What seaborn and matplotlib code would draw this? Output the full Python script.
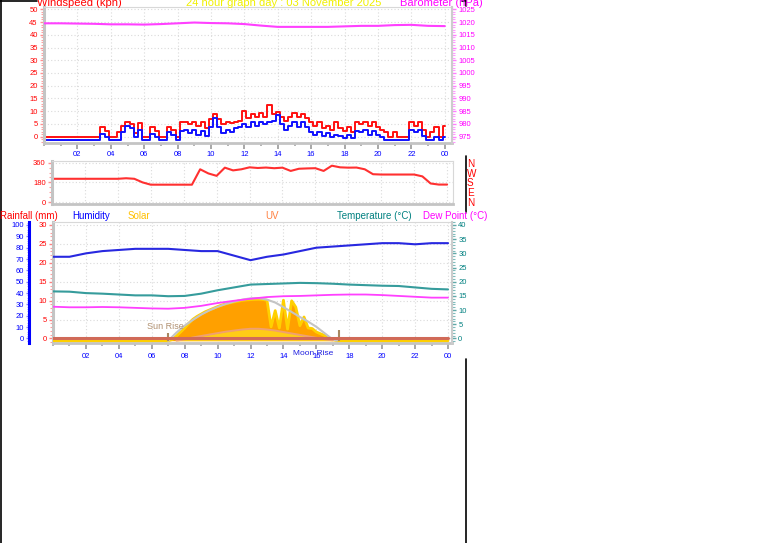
import numpy as np
import matplotlib
matplotlib.use('Agg')
import matplotlib.pyplot as plt
import matplotlib.transforms as mtransforms
from matplotlib.lines import Line2D
from matplotlib.ticker import MultipleLocator, FixedLocator
import seaborn as sns

# ---------------- data ----------------
hours_q = np.arange(97) * 0.25          # 15-minute samples 00:00 .. 24:00
hours_h = np.arange(25)                 # hourly samples
hours_d = np.arange(49) * 0.5           # 30-minute samples

gust_kph = [0] * 14 + [
    3.7, 2.3, 0, 0, 1.8, 4.3, 5.6, 4.8, 1.3, 5.2,
    0, 0, 3.7, 2.3, 0, 0, 3.7, 2.8, 0, 5.6,
    5.6, 5.0, 5.6, 4.3, 5.6, 3.3, 6.8, 9.0, 6.8, 4.8,
    5.6, 5.3, 5.6, 6.3, 10.2, 7.3, 8.8, 7.8, 9.3, 7.8,
    12.4, 8.8, 9.8, 7.8, 6.3, 7.8, 9.3, 7.8, 8.8, 7.3,
    5.8, 4.3, 5.6, 3.3, 4.3, 2.8, 5.6, 3.3, 2.3, 3.8,
    1.8, 5.6, 4.8, 5.6, 4.3, 5.6, 3.8, 2.8, 1.8, 0,
    1.8, 0, 0, 0, 5.6, 4.3, 5.6, 2.8, 0, 1.8,
    3.8, 0, 4.3]
speed_kph = [0] * 14 + [
    2.3, 1.0, 0, 0, 0, 3.0, 5.2, 4.5, 1.0, 4.0,
    0, 0, 2.3, 1.0, 0, 0, 3.0, 2.0, 0, 3.5,
    4.0, 2.5, 4.0, 2.0, 3.5, 1.5, 5.0, 8.5, 5.0, 2.5,
    4.0, 3.0, 4.5, 5.0, 6.0, 5.0, 7.0, 5.5, 7.0, 6.0,
    7.0, 7.5, 9.6, 6.0, 4.0, 5.5, 7.0, 5.0, 7.0, 5.0,
    3.0, 2.0, 3.0, 1.5, 2.5, 1.0, 2.0, 1.5, 0.5, 2.0,
    0.5, 3.5, 3.0, 4.0, 2.0, 3.5, 2.0, 1.0, 0, 0,
    0, 0, 0, 0, 4.0, 3.0, 4.0, 1.5, 0, 0,
    1.0, 0, 1.0]
pressure_hpa = [1019.5, 1019.5, 1019.4, 1019.3, 1019.1, 1019.1, 1019.0, 1019.2,
                1019.5, 1019.8, 1019.6, 1019.5, 1019.2, 1018.6, 1018.1, 1018.1,
                1018.1, 1018.1, 1018.3, 1018.5, 1018.5, 1018.8, 1018.9, 1018.5,
                1018.4]
direction_deg = [213, 213, 213, 213, 213, 213, 213, 213, 213, 218, 213, 180,
                 159, 159, 159, 159, 159, 159, 300, 262, 240, 315, 290, 300,
                 318, 312, 316, 310, 315, 285, 305, 308, 310, 285, 333, 318,
                 315, 316, 300, 255, 252, 252, 252, 252, 252, 235, 170, 160, 160]
humidity_pct = [72, 72, 75, 77, 78, 79, 79, 79, 78, 77, 77, 73, 69, 72, 74, 77,
                80, 81, 82, 83, 84, 84, 83, 84, 84]
temperature_c = [16.6, 16.5, 16.0, 15.8, 15.5, 15.2, 15.2, 14.9, 15.0, 15.8, 17.0,
                 18.0, 19.0, 19.2, 19.4, 19.6, 19.5, 19.3, 19.0, 18.8, 18.6, 18.5,
                 18.0, 17.5, 17.3]
dewpoint_c = [11.2, 11.0, 11.0, 11.1, 11.0, 10.8, 10.6, 10.5, 10.8, 11.5, 12.5,
              13.3, 14.0, 14.6, 14.9, 15.0, 15.2, 15.4, 15.5, 15.5, 15.3, 15.0,
              14.7, 14.4, 14.4]
rainfall_mm = [0] * 25
solar_wm2 = [0] * 29 + [
    10, 40, 75, 110, 150, 185, 210, 230, 250, 265, 280, 295, 308, 318, 327,
    335, 342, 348, 352, 355, 357, 358, 356, 350, 120, 260, 110, 350, 100, 345,
    290, 130, 205, 110, 105, 75, 60, 45, 25, 10] + [0] * 28
solar_max_hours = [7.0, 7.5, 8.0, 8.5, 9.0, 9.5, 10.0, 10.5, 11.0, 11.5, 12.0,
                   12.5, 13.0, 13.5, 14.0, 14.5, 15.0, 15.5, 16.0, 16.5, 17.0, 17.25]
solar_max_wm2 = [0, 70, 130, 180, 225, 262, 292, 318, 338, 355, 366, 368, 355,
                 330, 290, 248, 205, 165, 120, 65, 10, 0]
uv_hours = [7.5, 8.0, 8.5, 9.0, 9.5, 10.0, 10.5, 11.0, 11.5, 12.0, 12.5, 13.0,
            13.5, 14.0, 14.5, 15.0, 15.5, 16.0, 16.5, 17.0]
uv_index = [0, 0.2, 0.45, 0.65, 0.85, 1.05, 1.25, 1.4, 1.55, 1.65, 1.65, 1.55,
            1.4, 1.2, 1.0, 0.8, 0.6, 0.4, 0.2, 0.05]
sunrise_hour = 6.98
sunset_hour = 17.37
moonrise_hour = 15.83
tick_hours = [2, 4, 6, 8, 10, 12, 14, 16, 18, 20, 22, 24]
tick_labels = ['02', '04', '06', '08', '10', '12', '14', '16', '18', '20', '22', '00']
compass_deg = [0, 90, 180, 270, 360]
compass_labels = ['N', 'E', 'S', 'W', 'N']

# ---------------- style ----------------
sns.set_theme(style='white')
plt.rcParams['font.family'] = ['Liberation Sans', 'DejaVu Sans']

W, H = 761, 543
fig = plt.figure(figsize=(W / 100, H / 100), dpi=100)
fig.patch.set_facecolor('white')


def box(l, t, r, b):
    return [l / W, 1 - b / H, (r - l) / W, (b - t) / H]


GRID = dict(color='#DADADA', linestyle=(0, (1, 2)), linewidth=0.8)
XBLUE = '#0000FF'
TICKGRAY = '#A8A8A8'


def hide_all_spines(a):
    for s in a.spines.values():
        s.set_visible(False)


def style_xaxis(a, labels=True, pad=1.5):
    a.xaxis.set_major_locator(FixedLocator(tick_hours))
    a.xaxis.set_minor_locator(MultipleLocator(1))
    a.set_xticklabels(tick_labels if labels else [''] * len(tick_hours))
    a.tick_params(axis='x', which='major', bottom=True, length=4, width=1.4,
                  color=TICKGRAY, labelcolor=XBLUE, labelsize=5.5, pad=pad)
    a.tick_params(axis='x', which='minor', bottom=True, length=2.5, width=1.2,
                  color=TICKGRAY)
    a.grid(True, axis='x', which='major', **GRID)


def frame(a):
    for s in ['top', 'right']:
        a.spines[s].set_color('#D8D8D8')
        a.spines[s].set_linewidth(0.8)
    a.spines['left'].set_color('#C4C4C4')
    a.spines['left'].set_linewidth(2.2)
    a.spines['bottom'].set_color('#C4C4C4')
    a.spines['bottom'].set_linewidth(2.0)


# ---------------- panel 1 : wind + barometer ----------------
ax1 = fig.add_axes(box(44, 7, 452, 143))
sns.lineplot(x=hours_q, y=gust_kph, ax=ax1, color='#FF1010', linewidth=1.4,
             drawstyle='steps-mid', estimator=None, legend=False)
blue_tr = mtransforms.offset_copy(ax1.transData, fig=fig, y=-3, units='dots')
sns.lineplot(x=hours_q, y=speed_kph, ax=ax1, color='#1010FF', linewidth=1.4,
             drawstyle='steps-mid', estimator=None, legend=False, transform=blue_tr)
ax1.set_xlim(0, 24.43)
ax1.set_ylim(-2.47, 50.9)
frame(ax1)
style_xaxis(ax1, labels=True, pad=1.5)
ax1.yaxis.set_major_locator(MultipleLocator(5))
ax1.yaxis.set_minor_locator(MultipleLocator(1))
ax1.tick_params(axis='y', which='major', left=True, length=3, width=1, color='#FF9090',
                labelcolor='#FF0000', labelsize=5.5, pad=1.5)
ax1.tick_params(axis='y', which='minor', left=True, length=2, width=0.8, color='#FFA0A0')
ax1.grid(True, axis='y', which='major', **GRID)
ax1.set_xlabel('')
ax1.set_ylabel('')

ax1b = ax1.twinx()
sns.lineplot(x=hours_h, y=pressure_hpa, ax=ax1b, color='#FF40FF', linewidth=1.5,
             estimator=None, legend=False)
ax1b.set_ylim(972.53, 1025.9)
ax1b.set_xlim(0, 24.43)
hide_all_spines(ax1b)
ax1b.spines['right'].set_visible(True)
ax1b.spines['right'].set_color('#CCCCCC')
ax1b.spines['right'].set_linewidth(1.5)
ax1b.yaxis.set_major_locator(MultipleLocator(5))
ax1b.yaxis.set_minor_locator(MultipleLocator(1))
ax1b.tick_params(axis='y', which='major', right=True, length=3, width=1, color='#FF80FF',
                 labelcolor='#FF00FF', labelsize=5.5, pad=1.5)
ax1b.tick_params(axis='y', which='minor', right=True, length=2, width=0.8, color='#FF9CFF')
ax1b.set_ylabel('')

# ---------------- panel 2 : wind direction ----------------
ax2 = fig.add_axes(box(52, 161, 453, 204))
sns.lineplot(x=hours_d, y=direction_deg, ax=ax2, color='#FF3030', linewidth=1.5,
             estimator=None, legend=False)
ax2.set_xlim(0, 24.36)
ax2.set_ylim(-18, 376)
frame(ax2)
ax2.xaxis.set_major_locator(FixedLocator(tick_hours))
ax2.set_xticklabels([''] * len(tick_hours))
ax2.tick_params(axis='x', length=0)
ax2.grid(True, axis='x', **GRID)
ax2.yaxis.set_major_locator(FixedLocator([0, 180, 360]))
ax2.yaxis.set_minor_locator(MultipleLocator(45))
ax2.tick_params(axis='y', which='major', left=True, length=3, width=1, color='#FF9090',
                labelcolor='#FF0000', labelsize=5.5, pad=1.5)
ax2.tick_params(axis='y', which='minor', left=True, length=2, width=0.8, color='#FFA0A0')
ax2.grid(True, axis='y', which='major', **GRID)
ax2.set_xlabel('')
ax2.set_ylabel('')

ax2b = ax2.twinx()
ax2b.set_ylim(-18, 376)
hide_all_spines(ax2b)
ax2b.yaxis.set_major_locator(FixedLocator(compass_deg))
ax2b.set_yticklabels(compass_labels)
ax2b.tick_params(axis='y', right=True, length=0, pad=10, labelcolor='#FF0000',
                 labelsize=7.2)

# ---------------- panel 3 : rain / humidity / solar / uv / temperature ----------------
P3 = box(53, 222, 452, 343)
X3 = (0, 24.24)
ax3 = fig.add_axes(P3)
ax3.set_xlim(*X3)
ax3.set_ylim(-1.19, 30.79)
frame(ax3)
style_xaxis(ax3, labels=True, pad=3)
ax3.yaxis.set_major_locator(MultipleLocator(5))
ax3.yaxis.set_minor_locator(MultipleLocator(1))
ax3.tick_params(axis='y', which='major', left=True, length=3, width=1, color='#FF8080',
                labelcolor='#FF0000', labelsize=5.5, pad=1.5)
ax3.tick_params(axis='y', which='minor', left=True, length=2, width=0.8, color='#FF9C9C')
ax3.grid(True, axis='y', which='major', **GRID)

# solar
axS = ax3.twinx()
axS.fill_between(hours_q, 0, solar_wm2, color='#FFA000', linewidth=0)
sns.lineplot(x=hours_q, y=solar_wm2, ax=axS, color='#FFD000', linewidth=2.0,
             estimator=None, legend=False)
sns.lineplot(x=solar_max_hours, y=solar_max_wm2, ax=axS, color='#C4C4C4',
             linewidth=1.5, estimator=None, legend=False)
axS.set_ylim(-19.9, 1025.9)
axS.set_xlim(*X3)
axS.set_yticks([])
axS.set_ylabel('')
hide_all_spines(axS)

# UV
axU = ax3.twinx()
axU.fill_between(uv_hours, 0, uv_index, color='#FFD21A', linewidth=0, alpha=0.9)
sns.lineplot(x=uv_hours, y=uv_index, ax=axU, color='#F0A070', linewidth=1.4,
             estimator=None, legend=False)
axU.set_ylim(-0.318, 16.41)
axU.set_xlim(*X3)
axU.set_yticks([])
axU.set_ylabel('')
hide_all_spines(axU)

# humidity
axH = ax3.twinx()
sns.lineplot(x=hours_h, y=humidity_pct, ax=axH, color='#2828E0', linewidth=1.5,
             estimator=None, legend=False)
axH.set_ylim(-3.965, 102.64)
axH.set_xlim(*X3)
hide_all_spines(axH)
axH.spines['left'].set_visible(True)
axH.spines['left'].set_position(('outward', 17))
axH.spines['left'].set_color('#0000FF')
axH.spines['left'].set_linewidth(2.2)
axH.yaxis.tick_left()
axH.yaxis.set_major_locator(MultipleLocator(10))
axH.yaxis.set_minor_locator(MultipleLocator(2))
axH.tick_params(axis='y', which='major', left=True, right=False, length=2.5, width=1,
                color='#8080FF', labelcolor='#0000FF', labelsize=5.5, pad=1.5)
axH.tick_params(axis='y', which='minor', left=True, right=False, length=1.8,
                width=0.8, color='#A0A0FF')
axH.set_ylabel('')

# temperature + dew point
axT = ax3.twinx()
sns.lineplot(x=hours_h, y=dewpoint_c, ax=axT, color='#FF40FF', linewidth=1.3,
             estimator=None, legend=False)
sns.lineplot(x=hours_h, y=temperature_c, ax=axT, color='#369C9C', linewidth=1.5,
             estimator=None, legend=False)
axT.set_ylim(-1.586, 41.057)
axT.set_xlim(*X3)
hide_all_spines(axT)
axT.spines['right'].set_visible(True)
axT.spines['right'].set_color('#CCCCCC')
axT.spines['right'].set_linewidth(1.5)
axT.yaxis.set_major_locator(MultipleLocator(5))
axT.yaxis.set_minor_locator(MultipleLocator(1))
axT.tick_params(axis='y', which='major', right=True, length=3, width=1, color='#60A8A8',
                labelcolor='#008080', labelsize=5.5, pad=1.5)
axT.tick_params(axis='y', which='minor', right=True, length=2, width=0.8, color='#80BCBC')
axT.set_ylabel('')
# sun rise / sun set markers
axT.vlines([sunrise_hour], -0.88, 1.94, color='#A88860', linewidth=1.5)
axT.vlines([sunset_hour], -0.88, 3.0, color='#A88860', linewidth=1.5)
axT.text(sunrise_hour - 0.14, 4.4, 'Sun Rise', ha='center', va='center',
         color='#B09070', fontsize=6.5)
moon_tr = mtransforms.blended_transform_factory(axT.transData, axT.transAxes)
axT.text(moonrise_hour, -0.083, 'Moon Rise', ha='center', va='center',
         color='#2020E0', fontsize=6, transform=moon_tr)

# rainfall line on top
axR = ax3.twinx()
sns.lineplot(x=hours_h, y=rainfall_mm, ax=axR, color='#D06A58', linewidth=2.2,
             estimator=None, legend=False)
axR.set_ylim(-1.19, 30.79)
axR.set_xlim(*X3)
axR.set_yticks([])
axR.set_ylabel('')
hide_all_spines(axR)

# ---------------- texts ----------------
def ftext(x, y, s, color, size, va='center'):
    fig.text(x / W, 1 - y / H, s, color=color, fontsize=size, ha='left', va=va)


ftext(37, 6, 'Windspeed (kph)', '#FF0000', 8, va='baseline')
ftext(186, 6, '24 hour graph day : 03 November 2025', '#F0F000', 8, va='baseline')
ftext(400, 6, 'Barometer (hPa)', '#FF00FF', 8, va='baseline')

ftext(0, 216, 'Rainfall (mm)', '#FF0000', 7)
ftext(72, 216, 'Humidity', '#0000FF', 7)
ftext(128, 216, 'Solar', '#FFC000', 7)
ftext(265, 216, 'UV', '#FF8040', 7)
ftext(337, 216, 'Temperature (°C)', '#008080', 7)
ftext(423, 216, 'Dew Point (°C)', '#FF00FF', 7)

# ---------------- page border lines ----------------
def fline(x0, y0, x1, y1):
    fig.add_artist(Line2D([x0 / W, x1 / W], [1 - y0 / H, 1 - y1 / H],
                          transform=fig.transFigure, color='black', linewidth=1.2))


fline(0.6, 0, 0.6, H)
fline(0, 0.5, 37, 0.5)
fline(462, 0.5, 466, 0.5)
fline(465.5, 0, 465.5, 6)
fline(465.5, 156, 465.5, 212)
fline(465.5, 359, 465.5, H)

fig.savefig('out.png', dpi=100, facecolor='white')
